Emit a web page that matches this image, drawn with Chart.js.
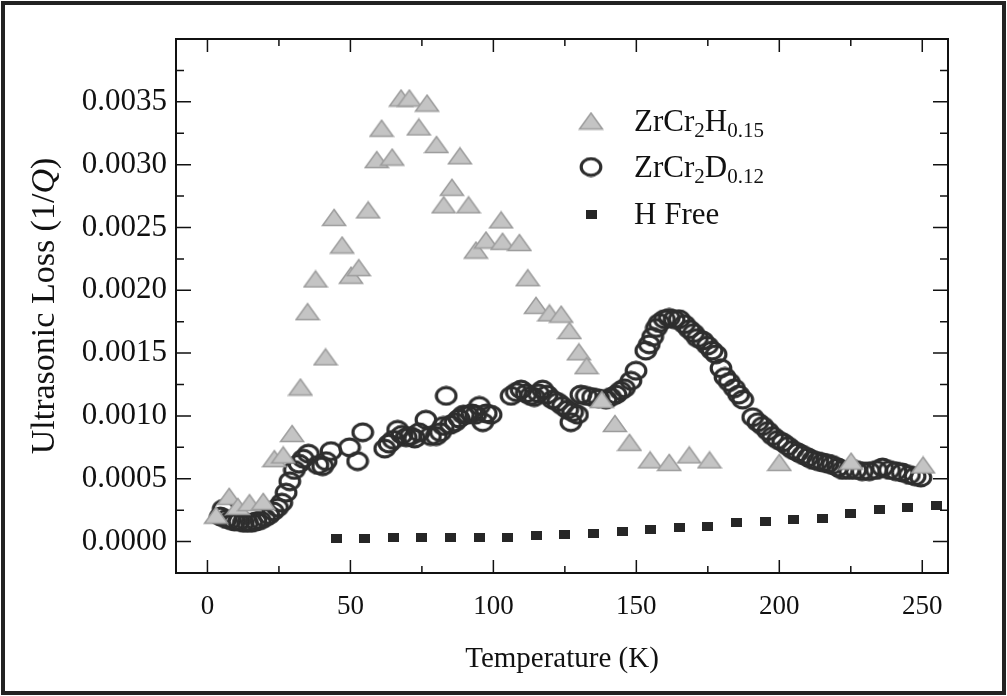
<!DOCTYPE html>
<html>
<head>
<meta charset="utf-8">
<title>Ultrasonic loss vs temperature</title>
<script src="https://cdn.jsdelivr.net/npm/chart.js@4.4.0/dist/chart.umd.min.js"></script>
<style>
  html, body { margin: 0; padding: 0; background: #fff; }
  #wrap { width: 1007px; height: 696px; position: relative; }
</style>
</head>
<body>
<div id="wrap"><canvas id="lossChart" width="1007" height="696"></canvas></div>
<script>
// ZrCr2H0.15 (triangles)
const hTemp = [3.0, 7.6, 10.6, 14.7, 19.5, 23.4, 26.5, 29.6, 32.5, 35.0, 37.8, 41.3, 44.3, 47.1, 50.2, 52.9,
  56.2, 59.2, 60.9, 64.6, 67.7, 70.6, 73.9, 76.8, 80.1, 82.6, 85.5, 88.3, 91.3, 93.9, 97.4, 102.7, 103.2,
  109.1, 112.0, 114.9, 119.6, 123.7, 126.6, 129.9, 132.6, 137.9, 142.5, 147.6, 154.8, 161.5, 168.5, 175.6,
  200.0, 225.1, 250.3];
const hLoss = [0.00021, 0.00036, 0.00028, 0.00031, 0.00032, 0.00066, 0.00069, 0.00086, 0.00123, 0.00183,
  0.00209, 0.00147, 0.00258, 0.00236, 0.00212, 0.00218, 0.00264, 0.00304, 0.00329, 0.00306, 0.00353,
  0.00353, 0.00330, 0.00349, 0.00316, 0.00268, 0.00282, 0.00307, 0.00268, 0.00232, 0.00240, 0.00256,
  0.00239, 0.00238, 0.00210, 0.00188, 0.00182, 0.00181, 0.00168, 0.00151, 0.00140, 0.00113, 0.00094,
  0.00079, 0.00065, 0.00063, 0.00069, 0.00065, 0.00063, 0.00064, 0.00061];

// ZrCr2D0.12 (circles)
const dTemp = [4.5, 5.5, 6.5, 8.0, 9.5, 11.0, 12.5, 14.0, 15.5, 17.0, 18.5, 20.0, 21.5, 23.0, 24.5, 26.0,
  27.5, 28.8, 30.4, 32.0, 33.5, 35.3, 38.6, 40.3, 41.5, 43.2, 49.7, 52.5, 54.3, 62.0, 63.5, 65.0, 66.5,
  68.0, 69.5, 71.0, 72.5, 74.0, 76.4, 78.0, 80.0, 81.5, 82.5, 83.5, 85.0, 86.6, 88.0, 89.5, 91.0, 92.5,
  93.8, 95.1, 96.3, 97.5, 99.2, 106.2, 108.0, 109.7, 111.5, 113.0, 114.3, 115.8, 117.2, 118.8, 120.7,
  122.5, 124.2, 126.0, 127.1, 127.7, 129.4, 130.6, 132.5, 134.7, 136.8, 139.4, 141.0, 142.9, 144.5,
  145.8, 148.1, 149.9, 153.3, 154.5, 155.7, 157.0, 158.0, 159.8, 161.5, 163.2, 165.0, 166.8, 168.5,
  170.0, 171.4, 173.2, 174.9, 176.5, 177.9, 179.6, 181.0, 182.5, 184.3, 185.8, 187.2, 190.7, 192.5,
  194.2, 196.0, 197.7, 199.5, 201.2, 203.0, 204.7, 206.5, 208.2, 210.0, 211.7, 213.5, 215.2, 217.0,
  218.6, 220.5, 222.1, 224.5, 226.8, 229.0, 231.5, 234.0, 236.1, 238.5, 240.8, 243.0, 245.5, 247.5, 249.5];
const dLoss = [0.00020, 0.00026, 0.00018, 0.00017, 0.00016, 0.00016, 0.00015, 0.00015, 0.00015, 0.00016,
  0.00017, 0.00019, 0.00021, 0.00024, 0.00027, 0.00031, 0.00039, 0.00048, 0.00057, 0.00062, 0.00066,
  0.00070, 0.00061, 0.00060, 0.00064, 0.00072, 0.00075, 0.00064, 0.00087, 0.00074, 0.00078, 0.00081,
  0.00089, 0.00085, 0.00083, 0.00084, 0.00082, 0.00087, 0.00097, 0.00084, 0.00084, 0.00087, 0.00092,
  0.00116, 0.00093, 0.00095, 0.00098, 0.00101, 0.00101, 0.00102, 0.00101, 0.00108, 0.00095, 0.00102,
  0.00101, 0.00116, 0.00119, 0.00121, 0.00118, 0.00116, 0.00115, 0.00118, 0.00121, 0.00117, 0.00113,
  0.00111, 0.00108, 0.00105, 0.00095, 0.00103, 0.00101, 0.00117, 0.00116, 0.00115, 0.00114, 0.00113,
  0.00115, 0.00117, 0.00120, 0.00122, 0.00128, 0.00136, 0.00152, 0.00157, 0.00163, 0.00170, 0.00174,
  0.00177, 0.00178, 0.00177, 0.00177, 0.00173, 0.00169, 0.00166, 0.00162, 0.00160, 0.00156, 0.00152,
  0.00149, 0.00138, 0.00131, 0.00127, 0.00122, 0.00117, 0.00113, 0.00099, 0.00095, 0.00092, 0.00088,
  0.00084, 0.00081, 0.00079, 0.00076, 0.00073, 0.00071, 0.00069, 0.00067, 0.00065, 0.00064, 0.00063,
  0.00062, 0.00061, 0.00059, 0.00057, 0.00057, 0.00057, 0.00056, 0.00056, 0.00057, 0.00059, 0.00057,
  0.00056, 0.00055, 0.00053, 0.00052, 0.00051];

// H free (squares)
const freeTemp = [45, 55, 65, 75, 85, 95, 105, 115, 125, 135, 145, 155, 165, 175, 185, 195, 205, 215, 225, 235, 245, 255];
const freeLoss = [0.000027, 0.000027, 0.00003, 0.00003, 0.000035, 0.00003, 0.000035, 0.000045, 0.000053,
  0.000064, 0.00008, 0.000093, 0.000115, 0.00012, 0.000152, 0.000163, 0.000173, 0.000181, 0.000227,
  0.000253, 0.000275, 0.000285];

const xTicks = [0, 50, 100, 150, 200, 250];
const xMinorTicks = [25, 75, 125, 175, 225];
const yTicks = [0, 0.0005, 0.001, 0.0015, 0.002, 0.0025, 0.003, 0.0035];
const yMinorTicks = [0.00025, 0.00075, 0.00125, 0.00175, 0.00225, 0.00275, 0.00325, 0.00375];

const seriesNames = [
  [['ZrCr', 0], ['2', 1], ['H', 0], ['0.15', 1]],
  [['ZrCr', 0], ['2', 1], ['D', 0], ['0.12', 1]],
  [['H Free', 0]]
];

const SERIF = '"Liberation Serif", "DejaVu Serif", serif';

function makeTriangle() {
  const c = document.createElement('canvas');
  c.width = 26; c.height = 19;
  const g = c.getContext('2d');
  g.beginPath();
  g.moveTo(13, 1.5);
  g.lineTo(24.5, 17.5);
  g.lineTo(1.5, 17.5);
  g.closePath();
  g.fillStyle = '#c4c4c4';
  g.fill();
  g.strokeStyle = '#9c9c9c';
  g.lineWidth = 1.5;
  g.stroke();
  return c;
}

function makeRing() {
  const c = document.createElement('canvas');
  c.width = 24; c.height = 21;
  const g = c.getContext('2d');
  g.beginPath();
  g.ellipse(12, 10.5, 9.8, 8.3, 0, 0, Math.PI * 2);
  g.strokeStyle = '#2e2e2e';
  g.lineWidth = 3.2;
  g.stroke();
  return c;
}

function makeSquare() {
  const c = document.createElement('canvas');
  c.width = 11; c.height = 9;
  const g = c.getContext('2d');
  g.fillStyle = '#262626';
  g.fillRect(0, 0, 11, 9);
  return c;
}

const triImg = makeTriangle();
const ringImg = makeRing();
const squareImg = makeSquare();
const markers = [triImg, ringImg, squareImg];

function toPoints(xs, ys) {
  return xs.map(function (x, i) { return { x: x, y: ys[i] }; });
}

const decorPlugin = {
  id: 'decor',
  afterDraw(chart) {
    const ctx = chart.ctx;
    const a = chart.chartArea;
    const xs = chart.scales.x;
    const ys = chart.scales.y;

    ctx.save();
    // inward ticks on all four sides
    ctx.strokeStyle = '#111';
    ctx.lineWidth = 1.5;
    ctx.beginPath();
    xTicks.forEach(function (v) {
      const px = xs.getPixelForValue(v);
      ctx.moveTo(px, a.bottom); ctx.lineTo(px, a.bottom - 13);
      ctx.moveTo(px, a.top); ctx.lineTo(px, a.top + 13);
    });
    xMinorTicks.forEach(function (v) {
      const px = xs.getPixelForValue(v);
      ctx.moveTo(px, a.bottom); ctx.lineTo(px, a.bottom - 7);
      ctx.moveTo(px, a.top); ctx.lineTo(px, a.top + 7);
    });
    yTicks.forEach(function (v) {
      const py = ys.getPixelForValue(v);
      ctx.moveTo(a.left, py); ctx.lineTo(a.left + 15, py);
      ctx.moveTo(a.right, py); ctx.lineTo(a.right - 15, py);
    });
    yMinorTicks.forEach(function (v) {
      const py = ys.getPixelForValue(v);
      ctx.moveTo(a.left, py); ctx.lineTo(a.left + 8, py);
      ctx.moveTo(a.right, py); ctx.lineTo(a.right - 8, py);
    });
    ctx.stroke();

    // plot frame
    ctx.lineWidth = 2;
    ctx.strokeRect(a.left, a.top, a.right - a.left, a.bottom - a.top);

    // outer figure border
    ctx.lineWidth = 4;
    ctx.strokeStyle = '#222';
    ctx.strokeRect(3, 3, chart.width - 6, chart.height - 6);

    // y axis title with italic Q
    ctx.fillStyle = '#111';
    ctx.textBaseline = 'middle';
    ctx.textAlign = 'left';
    ctx.translate(45, (a.top + a.bottom) / 2);
    ctx.rotate(-Math.PI / 2);
    const parts = [['Ultrasonic Loss (1/', 'normal'], ['Q', 'italic'], [')', 'normal']];
    let total = 0;
    parts.forEach(function (p) {
      ctx.font = p[1] + ' 34px ' + SERIF;
      total += ctx.measureText(p[0]).width;
    });
    let cx = -total / 2;
    parts.forEach(function (p) {
      ctx.font = p[1] + ' 34px ' + SERIF;
      ctx.fillText(p[0], cx, 0);
      cx += ctx.measureText(p[0]).width;
    });
    ctx.restore();

    // legend
    ctx.save();
    ctx.fillStyle = '#111';
    ctx.textAlign = 'left';
    ctx.textBaseline = 'alphabetic';
    const rowY = [121, 167, 214];
    seriesNames.forEach(function (name, i) {
      const img = markers[i];
      ctx.drawImage(img, 591 - img.width / 2, rowY[i] - img.height / 2);
      let tx = 634;
      name.forEach(function (piece) {
        if (piece[1]) {
          ctx.font = '21px ' + SERIF;
          ctx.fillText(piece[0], tx, rowY[i] + 16);
        } else {
          ctx.font = '31px ' + SERIF;
          ctx.fillText(piece[0], tx, rowY[i] + 10);
        }
        tx += ctx.measureText(piece[0]).width;
      });
    });
    ctx.restore();
  }
};

const ctx = document.getElementById('lossChart').getContext('2d');

new Chart(ctx, {
  type: 'scatter',
  data: {
    datasets: [
      {
        label: 'ZrCr2H0.15',
        data: toPoints(hTemp, hLoss),
        pointStyle: triImg,
        order: 1
      },
      {
        label: 'ZrCr2D0.12',
        data: toPoints(dTemp, dLoss),
        pointStyle: ringImg,
        order: 2
      },
      {
        label: 'H Free',
        data: toPoints(freeTemp, freeLoss),
        pointStyle: squareImg,
        order: 0
      }
    ]
  },
  options: {
    responsive: false,
    animation: false,
    layout: {
      padding: { top: 39, right: 59, left: 0, bottom: 0 }
    },
    plugins: {
      legend: { display: false },
      tooltip: { enabled: false }
    },
    scales: {
      x: {
        type: 'linear',
        min: -11,
        max: 259,
        grid: { display: false, drawTicks: false },
        border: { display: false },
        afterBuildTicks: function (scale) {
          scale.ticks = xTicks.map(function (v) { return { value: v }; });
        },
        afterFit: function (scale) { scale.height = 123; },
        ticks: {
          color: '#111',
          padding: 18,
          maxRotation: 0,
          font: { family: SERIF, size: 27 },
          callback: function (v) { return String(v); }
        },
        title: {
          display: true,
          text: 'Temperature (K)',
          color: '#111',
          font: { family: SERIF, size: 29 },
          padding: { top: 0, bottom: 19 }
        }
      },
      y: {
        type: 'linear',
        min: -0.00025,
        max: 0.004,
        grid: { display: false, drawTicks: false },
        border: { display: false },
        afterBuildTicks: function (scale) {
          scale.ticks = yTicks.map(function (v) { return { value: v }; });
        },
        afterFit: function (scale) { scale.width = 176; },
        ticks: {
          color: '#111',
          padding: 9,
          font: { family: SERIF, size: 31 },
          callback: function (v) { return v.toFixed(4); }
        }
      }
    }
  },
  plugins: [decorPlugin]
});
</script>
</body>
</html>
